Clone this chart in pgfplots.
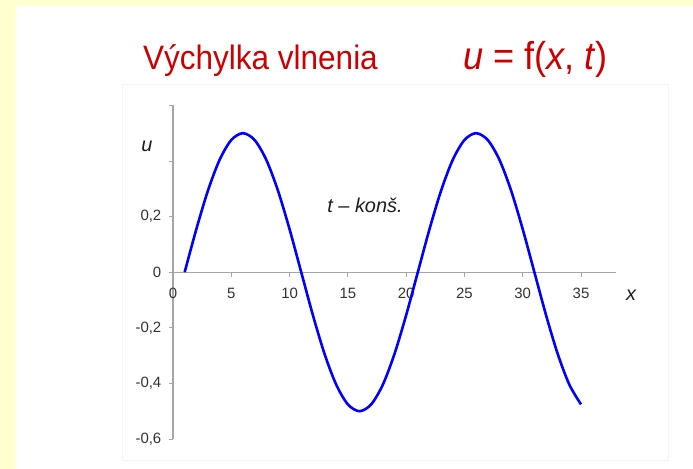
\documentclass[border=0pt]{standalone}
\usepackage{pgfplots}
\pgfplotsset{compat=1.18}
\usepackage{fontspec}
\setmainfont{Liberation Sans}

\definecolor{cream}{RGB}{255,255,208}
\definecolor{titlered}{RGB}{204,0,0}
\definecolor{axisgray}{RGB}{165,165,165}
\definecolor{ticktext}{RGB}{50,50,50}
\definecolor{framegray}{RGB}{244,244,244}

% u = 0.5 sin(2*pi*(x-1)/20) at t = const
\pgfplotstableread{
x u
1 0
2 0.1545
3 0.2939
4 0.4045
5 0.4755
6 0.5
7 0.4755
8 0.4045
9 0.2939
10 0.1545
11 0
12 -0.1545
13 -0.2939
14 -0.4045
15 -0.4755
16 -0.5
17 -0.4755
18 -0.4045
19 -0.2939
20 -0.1545
21 0
22 0.1545
23 0.2939
24 0.4045
25 0.4755
26 0.5
27 0.4755
28 0.4045
29 0.2939
30 0.1545
31 0
32 -0.1545
33 -0.2939
34 -0.4045
35 -0.4755
}\wave

\begin{document}
\begin{tikzpicture}
\useasboundingbox (0bp,0bp) rectangle (693bp,469bp);
% slide background and white panel
\fill[cream] (0bp,0bp) rectangle (693bp,469bp);
\fill[white] (16bp,0bp) rectangle (693bp,463bp);
% chart area frame
\draw[framegray, line width=0.8bp] (122bp,9bp) rectangle (668bp,385bp);

% title
\node[anchor=base west, inner sep=0pt, text=titlered,
      font=\fontsize{34}{40}\selectfont] at (143bp,399bp)
      {\scalebox{0.93}[1]{Výchylka vlnenia}};
\node[anchor=base west, inner sep=0pt, text=titlered,
      font=\fontsize{39}{44}\selectfont] at (463bp,399bp)
      {\scalebox{0.93}[1]{\textit{u} = f(\textit{x}, \textit{t})}};

\begin{axis}[
  at={(173bp,30bp)}, anchor=south west,
  scale only axis, width=443bp, height=333.6bp,
  xmin=0, xmax=38, ymin=-0.6, ymax=0.6,
  axis x line=middle, axis y line=left,
  axis line style={axisgray, line width=1.1bp, -},
  hide obscured x ticks=false, hide obscured y ticks=false,
  xtick={0,5,10,15,20,25,30,35},
  ytick={-0.6,-0.4,-0.2,0,0.2,0.4,0.6},
  yticklabels={{-0,6},{-0,4},{-0,2},{0},{0,2},{},{}},
  tick align=outside,
  major tick length=4.5bp,
  tick style={axisgray, line width=1bp},
  /pgf/number format/assume math mode=true,
  xticklabel style={font=\fontsize{15}{17}\selectfont, text=ticktext,
                    anchor=north, inner sep=0pt, yshift=-11bp},
  yticklabel style={font=\fontsize{15}{17}\selectfont, text=ticktext,
                    anchor=east, inner sep=0pt, xshift=-7bp},
  clip=false,
]
\addplot[blue, line width=2.6bp, smooth, tension=0.5] table[x=x, y=u] {\wave};
\end{axis}

% axis names and annotation
\node[font=\fontsize{20}{24}\selectfont\itshape, text=ticktext!60!black] at (147bp,323bp) {u};
\node[font=\fontsize{20}{24}\selectfont\itshape, text=ticktext!60!black] at (631bp,174bp) {x};
\node[font=\fontsize{20}{24}\selectfont\itshape, text=ticktext!60!black] at (365bp,264bp) {t – konš.};
\end{tikzpicture}
\end{document}
